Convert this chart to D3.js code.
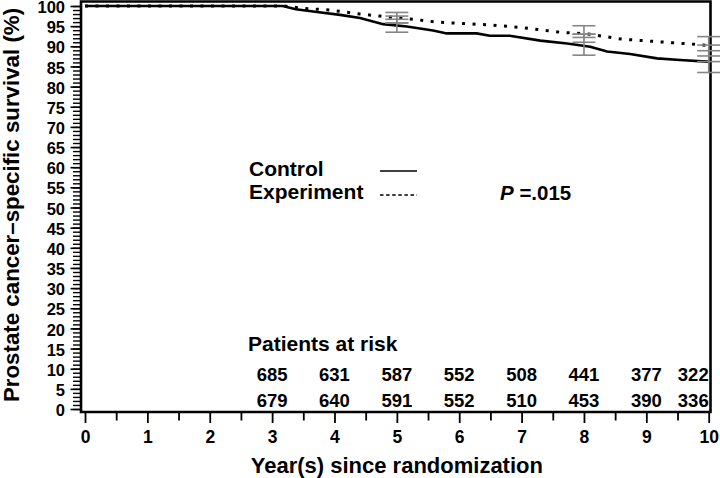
<!DOCTYPE html>
<html><head><meta charset="utf-8">
<script src="https://cdn.jsdelivr.net/npm/d3@7"></script>
<style>
html,body{margin:0;padding:0;background:#fff;}
svg{display:block;font-family:"Liberation Sans",Arial,Helvetica,sans-serif;font-weight:bold;}
</style></head>
<body>
<svg id="chart" width="720" height="478"></svg>
<script>
// ---- data ----
const controlYears = [0, 3.17, 3.38, 3.72, 4.09, 4.41, 4.78, 5.16, 5.58, 5.80, 6.28, 6.49, 6.81, 7.30, 7.73, 8.10, 8.37, 8.74, 9.17, 9.54, 9.97, 10];
const controlSurv  = [100, 100, 99.2, 98.5, 97.8, 97.0, 95.5, 94.9, 93.9, 93.2, 93.2, 92.6, 92.6, 91.4, 90.7, 89.9, 88.7, 88.1, 87.0, 86.6, 86.2, 86.2];
const expYears = [0, 3.2, 3.5, 3.93, 4.41, 4.73, 5.21, 5.64, 6.49, 6.97, 7.61, 8.10, 8.59, 9.22, 9.86, 10];
const expSurv  = [100, 100, 99.4, 99.0, 98.0, 97.5, 96.8, 96.0, 95.3, 94.7, 93.5, 93.0, 91.8, 91.1, 90.4, 90.2];

const ciYears     = [5, 8, 10];
const controlLow  = [93.5, 87.8, 83.5];
const controlEst  = [95.8, 91.0, 86.2];
const controlHigh = [97.5, 93.0, 88.9];
const expLow      = [95.8, 92.2, 87.6];
const expEst      = [96.7, 93.0, 90.3];
const expHigh     = [98.4, 95.1, 92.4];

const riskYears   = [3, 4, 5, 6, 7, 8, 9, 10];
const controlRisk = [685, 631, 587, 552, 508, 441, 377, 322];
const expRisk     = [679, 640, 591, 552, 510, 453, 390, 336];

const xTicks = d3.range(0, 11, 1);
const xMinorTicks = d3.range(0.5, 10, 1);
const yTicks = d3.range(0, 101, 5);
const yMinorTicks = d3.range(0, 101, 1);

// ---- layout ----
const svg = d3.select("#chart");
const x = d3.scaleLinear().domain([0, 10]).range([85, 708.7]);
const y = d3.scaleLinear().domain([0, 100]).range([409, 6]);
const axisX = 81, axisY = 412, topY = 1.5, rightX = 710.5;
const font = '"Liberation Sans",Arial,Helvetica,sans-serif';

// y axis minor ticks
const gyMinor = svg.append("g").attr("transform", `translate(${axisX},0)`)
  .call(d3.axisLeft(y).tickValues(yMinorTicks).tickSize(8).tickFormat(""));
gyMinor.select(".domain").remove();
gyMinor.selectAll("line").attr("stroke", "#000").attr("stroke-width", 1.4);

// y axis major
const gy = svg.append("g").attr("transform", `translate(${axisX},0)`)
  .call(d3.axisLeft(y).tickValues(yTicks).tickSize(10.5).tickPadding(5.5));
gy.select(".domain").remove();
gy.selectAll("line").attr("stroke", "#000").attr("stroke-width", 1.6);
gy.selectAll("text").attr("font-family", font).attr("font-weight", "bold")
  .attr("font-size", 16.5).attr("fill", "#000").attr("dy", "0.4em");

// x axis minor
const gxMinor = svg.append("g").attr("transform", `translate(0,${axisY})`)
  .call(d3.axisBottom(x).tickValues(xMinorTicks).tickSize(8.5).tickFormat(""));
gxMinor.select(".domain").remove();
gxMinor.selectAll("line").attr("stroke", "#000").attr("stroke-width", 1.8);

// x axis major
const gx = svg.append("g").attr("transform", `translate(0,${axisY})`)
  .call(d3.axisBottom(x).tickValues(xTicks).tickSize(11).tickPadding(8));
gx.select(".domain").remove();
gx.selectAll("line").attr("stroke", "#000").attr("stroke-width", 1.8);
gx.selectAll("text").attr("font-family", font).attr("font-weight", "bold")
  .attr("font-size", 17.5).attr("fill", "#000");

// frame
svg.append("path")
  .attr("d", `M${axisX},${topY}L${rightX},${topY}L${rightX},${axisY}L${axisX},${axisY}Z`)
  .attr("fill", "none").attr("stroke", "#000").attr("stroke-width", 2.6);

// curves
const line = d3.line().x(d => x(d[0])).y(d => y(d[1]));
svg.append("path")
  .datum(expYears.map((t, i) => [t, expSurv[i]]))
  .attr("d", line).attr("fill", "none").attr("stroke", "#000")
  .attr("stroke-width", 3).attr("stroke-dasharray", "3,7.5");
svg.append("path")
  .datum(controlYears.map((t, i) => [t, controlSurv[i]]))
  .attr("d", line).attr("fill", "none").attr("stroke", "#000")
  .attr("stroke-width", 2.6);

// error bars
const gray = "#858585";
const hw = 11.5;
function errBars(low, est, high) {
  ciYears.forEach((t, i) => {
    const cx = x(t);
    const g = svg.append("g").attr("stroke", gray).attr("stroke-width", 1.6);
    g.append("line").attr("x1", cx).attr("x2", cx).attr("y1", y(low[i])).attr("y2", y(high[i]));
    [low[i], est[i], high[i]].forEach(v => {
      g.append("line").attr("x1", cx - hw).attr("x2", cx + hw).attr("y1", y(v)).attr("y2", y(v));
    });
  });
}
errBars(controlLow, controlEst, controlHigh);
errBars(expLow, expEst, expHigh);

// legend
svg.append("text").attr("x", 249).attr("y", 176).attr("font-size", 21).text("Control");
svg.append("text").attr("x", 249).attr("y", 199).attr("font-size", 21).text("Experiment");
svg.append("line").attr("x1", 380).attr("x2", 417).attr("y1", 171).attr("y2", 171)
  .attr("stroke", "#000").attr("stroke-width", 1.5);
svg.append("line").attr("x1", 380).attr("x2", 417).attr("y1", 195).attr("y2", 195)
  .attr("stroke", "#000").attr("stroke-width", 1.5).attr("stroke-dasharray", "3.5,2.6");

// P value
const pt = svg.append("text").attr("x", 500).attr("y", 200).attr("font-size", 20.5);
pt.append("tspan").attr("font-style", "italic").text("P");
pt.append("tspan").text(" =.015");

// patients at risk
svg.append("text").attr("x", 248).attr("y", 351).attr("font-size", 21).text("Patients at risk");
function riskRow(vals, yy) {
  svg.append("g").selectAll("text").data(vals).join("text")
    .attr("x", (d, i) => riskYears[i] === 10 ? x(10) : x(riskYears[i]))
    .attr("y", yy)
    .attr("text-anchor", (d, i) => riskYears[i] === 10 ? "end" : "middle")
    .attr("font-size", 18.5)
    .text(d => d);
}
riskRow(controlRisk, 381);
riskRow(expRisk, 407);

// axis titles
svg.append("text").attr("x", x(5)).attr("y", 473).attr("text-anchor", "middle")
  .attr("font-size", 22).text("Year(s) since randomization");
svg.append("text").attr("transform", "translate(19,205) rotate(-90)")
  .attr("text-anchor", "middle").attr("font-size", 22.3)
  .text("Prostate cancer\u2013specific survival (%)");
</script>
</body></html>
